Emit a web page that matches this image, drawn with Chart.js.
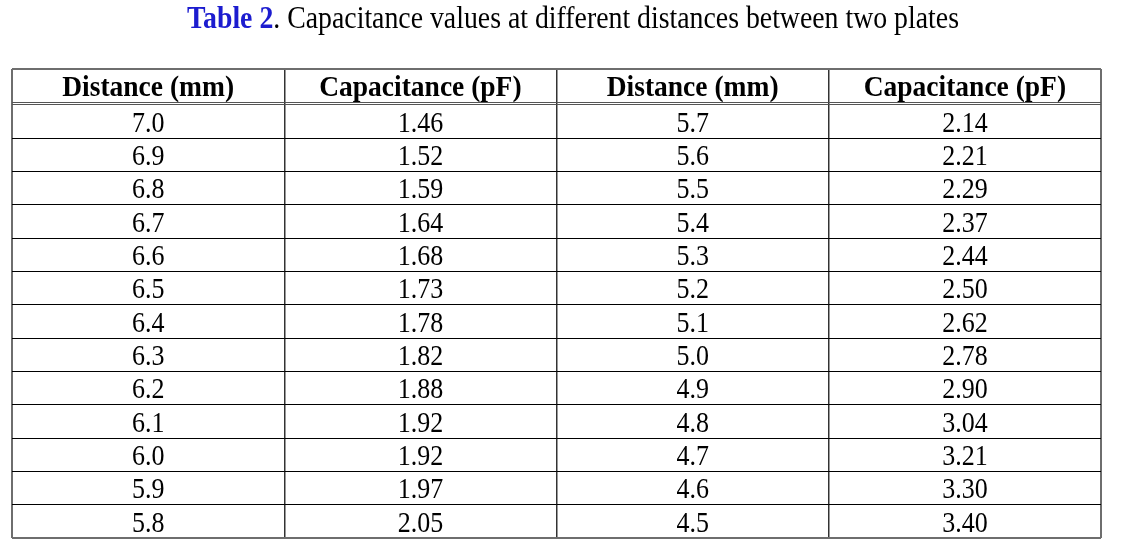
<!DOCTYPE html>
<html>
<head>
<meta charset="utf-8">
<script src="https://cdn.jsdelivr.net/npm/chart.js@4/dist/chart.umd.min.js"></script>
<style>
  html, body { margin: 0; padding: 0; background: #fff; }
</style>
</head>
<body>
<canvas id="tableChart" width="1121" height="542"></canvas>
<script>
const titleBold = "Table 2";
const titleRest = ". Capacitance values at different distances between two plates";
const headers = ["Distance (mm)", "Capacitance (pF)", "Distance (mm)", "Capacitance (pF)"];
const distanceA = [7.0, 6.9, 6.8, 6.7, 6.6, 6.5, 6.4, 6.3, 6.2, 6.1, 6.0, 5.9, 5.8];
const capacitanceA = [1.46, 1.52, 1.59, 1.64, 1.68, 1.73, 1.78, 1.82, 1.88, 1.92, 1.92, 1.97, 2.05];
const distanceB = [5.7, 5.6, 5.5, 5.4, 5.3, 5.2, 5.1, 5.0, 4.9, 4.8, 4.7, 4.6, 4.5];
const capacitanceB = [2.14, 2.21, 2.29, 2.37, 2.44, 2.50, 2.62, 2.78, 2.90, 3.04, 3.21, 3.30, 3.40];

const columns = [
  { values: distanceA, digits: 1 },
  { values: capacitanceA, digits: 2 },
  { values: distanceB, digits: 1 },
  { values: capacitanceB, digits: 2 }
];
const rowCount = distanceA.length;
const headerTop = -1.08;

const serif = '"Liberation Serif", "Times New Roman", serif';

// text in the scan is a bit taller than Times, so stretch it vertically
function tallText(ctx, text, x, baseline, stretch) {
  ctx.save();
  ctx.translate(x, baseline);
  ctx.scale(1, stretch);
  ctx.fillText(text, 0, 0);
  ctx.restore();
}

const cellText = {
  id: 'cellText',
  afterDatasetsDraw(chart) {
    const ctx = chart.ctx;
    const xs = chart.scales.x, ys = chart.scales.y;
    ctx.save();
    ctx.textAlign = 'center';
    ctx.textBaseline = 'alphabetic';
    ctx.fillStyle = '#000';

    // header row
    ctx.font = 'bold 27.5px ' + serif;
    const hy = ys.getPixelForValue((headerTop - 0.06) / 2);
    headers.forEach((h, c) => {
      tallText(ctx, h, xs.getPixelForValue(c + 0.5), hy + 9.8, 1.08);
    });

    // body cells, placed on each point the scales give
    ctx.font = '26px ' + serif;
    chart.data.datasets.forEach((ds, c) => {
      chart.getDatasetMeta(c).data.forEach((pt, i) => {
        tallText(ctx, columns[c].values[i].toFixed(columns[c].digits), pt.x, pt.y + 10.2, 1.12);
      });
    });

    // caption above the table
    ctx.textAlign = 'left';
    ctx.font = 'bold 27.8px ' + serif;
    const wb = ctx.measureText(titleBold).width;
    ctx.font = '27.8px ' + serif;
    const wr = ctx.measureText(titleRest).width;
    const tx = 573 - (wb + wr) / 2;
    ctx.font = 'bold 27.8px ' + serif;
    ctx.fillStyle = '#1c1ccf';
    tallText(ctx, titleBold, tx, 28, 1.1);
    ctx.font = '27.8px ' + serif;
    ctx.fillStyle = '#000';
    tallText(ctx, titleRest, tx + wb, 28, 1.1);
    ctx.restore();
  }
};

const ctx = document.getElementById('tableChart').getContext('2d');
new Chart(ctx, {
  type: 'scatter',
  data: {
    datasets: columns.map((col, c) => ({
      label: headers[c],
      data: col.values.map((v, i) => ({ x: c + 0.5, y: i + 0.5 })),
      pointRadius: 0
    }))
  },
  options: {
    responsive: false,
    animation: false,
    events: [],
    layout: { padding: { left: 12, right: 20, top: 69, bottom: 4 } },
    plugins: { legend: { display: false }, tooltip: { enabled: false } },
    scales: {
      x: {
        type: 'linear', min: 0, max: 4,
        afterBuildTicks(scale) { scale.ticks = [0, 1, 2, 3, 4].map(v => ({ value: v })); },
        afterFit(scale) { scale.height = 0; },
        ticks: { display: false },
        border: { display: false },
        grid: {
          drawTicks: false,
          color: c => (c.tick.value === 0 || c.tick.value === 4) ? '#6e6e6e' : '#333',
          lineWidth: c => (c.tick.value === 0 || c.tick.value === 4) ? 2 : 1.5
        }
      },
      y: {
        type: 'linear', min: headerTop, max: rowCount, reverse: true,
        afterBuildTicks(scale) {
          const t = [headerTop, -0.06];
          for (let i = 0; i <= rowCount; i++) t.push(i);
          scale.ticks = t.map(v => ({ value: v }));
        },
        afterFit(scale) { scale.width = 0; },
        ticks: { display: false },
        border: { display: false },
        grid: {
          drawTicks: false,
          color: c => {
            const v = c.tick.value;
            if (v === headerTop || v === rowCount) return '#6e6e6e';
            if (v === -0.06 || v === 0) return '#555';
            return '#000';
          },
          lineWidth: c => {
            const v = c.tick.value;
            return (v === headerTop || v === rowCount) ? 2 : 1;
          }
        }
      }
    }
  },
  plugins: [cellText]
});
</script>
</body>
</html>
